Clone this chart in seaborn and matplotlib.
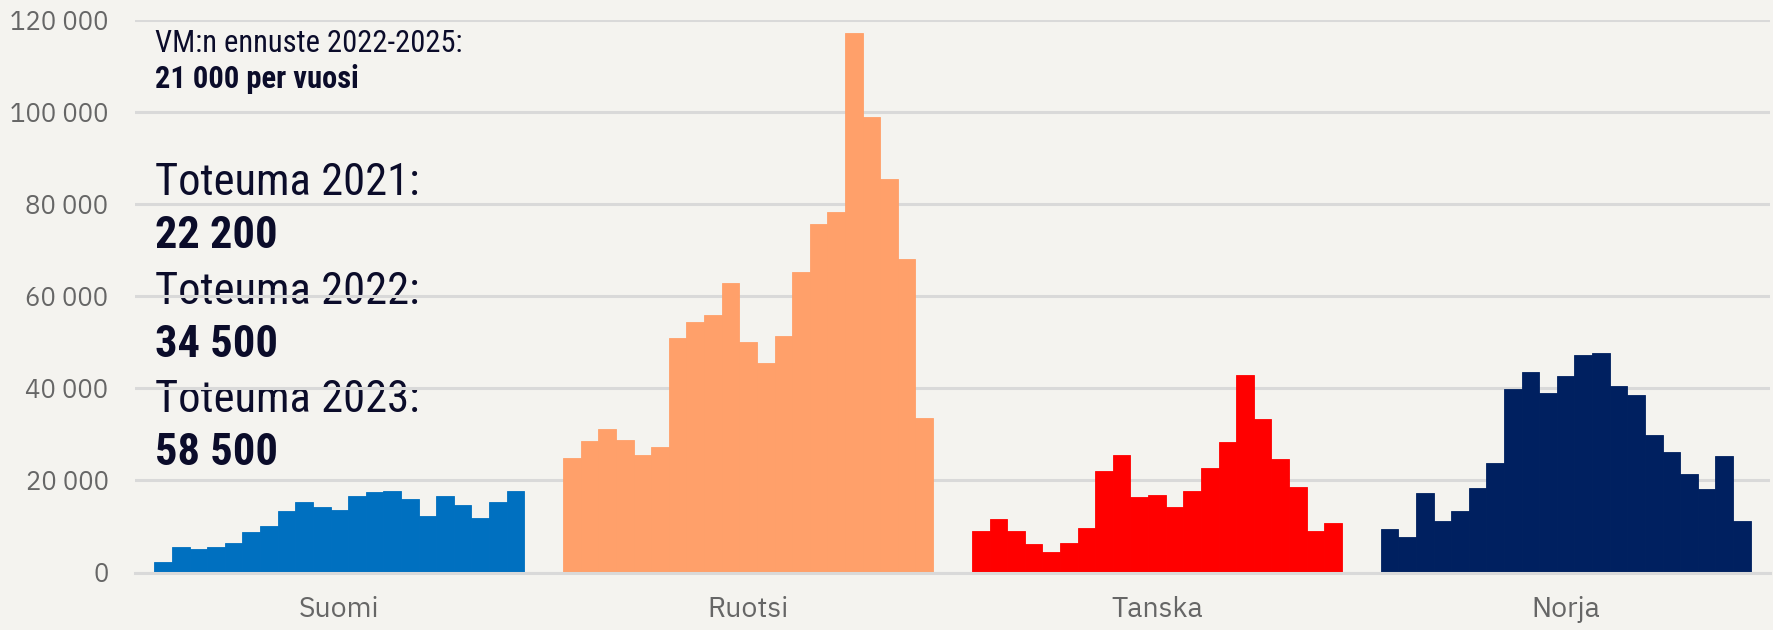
import matplotlib
matplotlib.use("Agg")
import matplotlib.pyplot as plt
import numpy as np
import pandas as pd
import seaborn as sns

# 21 vuotta per maa, luettu kuvasta
maat = ["Suomi", "Ruotsi", "Tanska", "Norja"]
suomi = [2200, 5500, 5100, 5500, 6500, 8700, 10100, 13400, 15300, 14300, 13600,
         16700, 17400, 17800, 15900, 12300, 16700, 14700, 11800, 15300, 17600]
ruotsi = [24800, 28500, 31100, 28700, 25600, 27300, 51000, 54300, 55900, 62900, 50000,
          45500, 51400, 65300, 75600, 78400, 117100, 98900, 85500, 68100, 33600]
tanska = [9100, 11700, 9100, 6200, 4500, 6400, 9600, 22000, 25500, 16400, 16900,
          14200, 17600, 22700, 28300, 42800, 33400, 24700, 18500, 9100, 10800]
norja = [9500, 7800, 17200, 11200, 13300, 18300, 23800, 39900, 43600, 39000, 42600,
         47300, 47600, 40400, 38500, 29800, 26100, 21500, 18100, 25400, 11200]
varit = ["#0070c0", "#ffa06a", "#ff0000", "#002060"]

rows = []
for maa, arvot in zip(maat, [suomi, ruotsi, tanska, norja]):
    for i, a in enumerate(arvot):
        rows.append({"maa": maa, "jakso": i, "arvo": a})
df = pd.DataFrame(rows)

bg = "#f4f3ef"
sns.set_theme(style="white")
plt.rcParams["font.family"] = ["IBM Plex Sans", "DejaVu Sans"]

fig = plt.figure(figsize=(17.73, 6.3), dpi=100, facecolor=bg)
ax = fig.add_axes([135 / 1773, 1 - 572.5 / 630, (1770 - 135) / 1773, (572.5 - 20) / 630])
ax.set_facecolor(bg)

sns.barplot(data=df, x="maa", y="arvo", hue="jakso", order=maat, width=0.905,
            gap=0, legend=False, ax=ax, saturation=1)

# värit maan mukaan
for cont in ax.containers:
    for bar, col in zip(cont, varit):
        bar.set_facecolor(col)
        bar.set_edgecolor(col)
        bar.set_linewidth(0.6)
        bar.set_zorder(2)

ax.set_ylim(0, 120000)
ax.set_xlim(-0.5, 3.5)
ax.set_yticks(np.arange(0, 120001, 20000))
ax.set_yticklabels([f"{v:,}".replace(",", " ") for v in range(0, 120001, 20000)])
ax.yaxis.grid(True, color="#d9d9d9", linewidth=2.2, zorder=1)
ax.set_axisbelow(True)
for s in ["top", "right", "left"]:
    ax.spines[s].set_visible(False)
ax.spines["bottom"].set_color("#d9d9d9")
ax.spines["bottom"].set_linewidth(2.2)
ax.tick_params(axis="y", length=0, pad=19, labelsize=18.5, labelcolor="#666666")
ax.tick_params(axis="x", length=0, pad=17, labelsize=20.5, labelcolor="#666666")
ax.set_xlabel("")
ax.set_ylabel("")

tc = "#0b0c2a"
x0 = 155 / 1773
tekstit = [
    ("VM:n ennuste 2022-2025:", 52, 22, "normal"),
    ("21 000 per vuosi", 88, 22, "bold"),
    ("Toteuma 2021:", 195, 32, "normal"),
    ("22 200", 248, 32, "bold"),
    ("Toteuma 2022:", 304, 32, "normal"),
    ("34 500", 357, 32, "bold"),
    ("Toteuma 2023:", 412, 32, "normal"),
    ("58 500", 465, 32, "bold"),
]
for t, yb, fs, fw in tekstit:
    ax.text(x0, 1 - yb / 630, t, transform=fig.transFigure, fontsize=fs, fontweight=fw,
            color=tc, va="baseline", ha="left", zorder=0.3,
            family=["Roboto Condensed", "DejaVu Sans"])

fig.savefig("out.png", dpi=100, facecolor=bg)
